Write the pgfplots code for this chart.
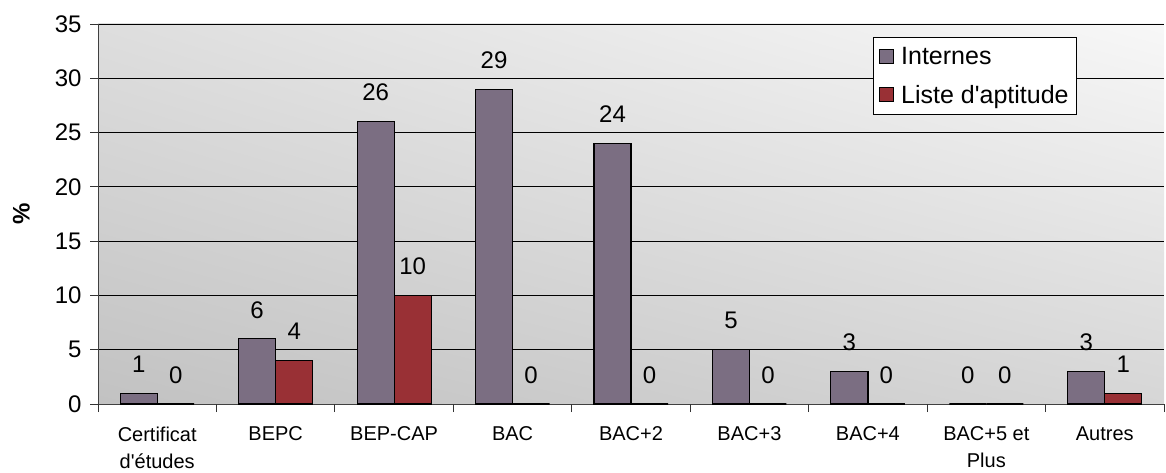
\documentclass[border=0pt]{standalone}
\usepackage{fontspec}
\setmainfont{Liberation Sans}[Ligatures=TeXOff]
\usepackage{pgfplots}
\usetikzlibrary{shadings}
\pgfplotsset{compat=1.18}
\definecolor{internes}{RGB}{123,110,130}
\definecolor{liste}{RGB}{153,48,53}
\begin{document}
\begin{tikzpicture}
\begin{axis}[
  scale only axis, width=1066bp, height=380bp,
  ybar=0pt, bar width=37bp,
  xmin=-0.5, xmax=8.5, ymin=0, ymax=35,
  ytick={0,5,10,15,20,25,30,35},
  xtick={0,1,2,3,4,5,6,7,8},
  xticklabels={{Certificat\\d'études},BEPC,BEP-CAP,BAC,BAC+2,BAC+3,BAC+4,{BAC+5 et\\Plus},Autres},
  x tick label style={font=\fontsize{20bp}{27bp}\selectfont, align=center, anchor=north, yshift=-11bp},
  xtick style={draw=none},
  extra x ticks={-0.5,0.5,1.5,2.5,3.5,4.5,5.5,6.5,7.5,8.5},
  extra x tick labels={},
  extra x tick style={xtick style={draw=black!80, line width=0.8bp}, grid=none},
  y tick label style={font=\fontsize{24bp}{24bp}\selectfont, xshift=-5bp},
  /pgf/number format/assume math mode=true,
  tick align=outside, major tick length=8bp,
  ytick style={black!80, line width=0.8bp},
  axis x line*=bottom, axis y line*=left,
  axis line style={black!75, line width=1bp},
  ymajorgrids, major grid style={black, line width=0.8bp},
  axis background/.style={shade, upper left=black!13, upper right=black!3, lower left=black!24, lower right=black!16},
  ylabel={\textbf{\%}},
  ylabel style={at={(axis description cs:-0.072,0.5)}, anchor=center, font=\fontsize{24bp}{24bp}\selectfont},
  legend style={at={(axis description cs:0.727,0.966)}, anchor=north west,
    font=\fontsize{25bp}{25bp}\selectfont, draw=black, line width=0.8bp, fill=white,
    row sep=15bp, inner xsep=6bp, inner ysep=8bp, cells={anchor=west},
    /tikz/every odd column/.append style={column sep=5bp}},
  nodes near coords,
  every node near coord/.append style={font=\fontsize{24bp}{24bp}\selectfont, anchor=center, yshift=29bp, black},
]
\addplot[fill=internes, draw=black, line width=1.2bp, legend image code/.code={\draw[fill=internes, draw=black, line width=0.8bp] (0bp,-7bp) rectangle (14bp,7bp);}] coordinates {(0,1) (1,6) (2,26) (3,29) (4,24) (5,5) (6,3) (7,0) (8,3)};
\addplot[fill=liste, draw=black, line width=1.2bp, legend image code/.code={\draw[fill=liste, draw=black, line width=0.8bp] (0bp,-7bp) rectangle (14bp,7bp);}] coordinates {(0,0) (1,4) (2,10) (3,0) (4,0) (5,0) (6,0) (7,0) (8,1)};
\legend{Internes, Liste d'aptitude}
\end{axis}
\pgfresetboundingbox
\path[use as bounding box] ([xshift=-98bp,yshift=-68bp]current axis.south west) rectangle ([xshift=2bp,yshift=24bp]current axis.north east);
\end{tikzpicture}
\end{document}
